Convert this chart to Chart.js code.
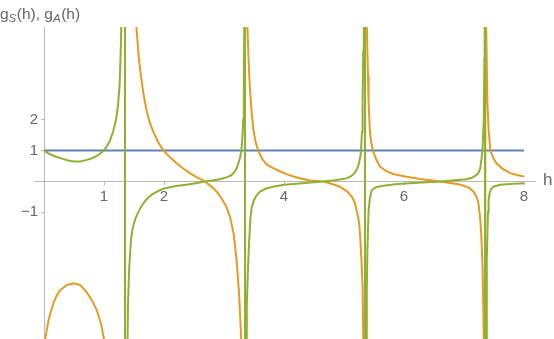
<!DOCTYPE html>
<html>
<head>
<meta charset="utf-8">
<script src="https://cdn.jsdelivr.net/npm/chart.js@4.4.1/dist/chart.umd.min.js"></script>
<style>
  html, body { margin: 0; padding: 0; background: #fff; }
  #wrap { width: 554px; height: 339px; position: relative; }
</style>
</head>
<body>
<div id="wrap"><canvas id="myChart"></canvas></div>
<script>
// values (h, g), poles drawn as a jump from +80 to -80
const hBlue = [0, 8];
const gBlue = [1, 1];

const hGreen = [
  0, 0.1, 0.2, 0.3, 0.4, 0.5, 0.6, 0.7, 0.8, 0.9, 1.0, 1.05, 1.1, 1.15, 1.2, 1.23, 1.26, 1.28, 1.29, 1.31, 1.35,
  1.35, 1.39, 1.40, 1.42, 1.45, 1.47, 1.5, 1.52, 1.55, 1.58, 1.62, 1.66, 1.7, 1.75, 1.8, 1.9, 2.0, 2.2, 2.4, 2.55, 2.68, 2.8, 2.93, 3.05, 3.12, 3.16, 3.19, 3.21, 3.24, 3.27, 3.29, 3.31, 3.32, 3.33, 3.34, 3.35,
  3.35, 3.37, 3.38, 3.40, 3.42, 3.44, 3.46, 3.5, 3.55, 3.6, 3.7, 3.82, 4.0, 4.16, 4.4, 4.66, 4.85, 5.04, 5.12, 5.17, 5.21, 5.25, 5.28, 5.30, 5.31, 5.32, 5.33, 5.35,
  5.35, 5.37, 5.38, 5.39, 5.41, 5.43, 5.46, 5.5, 5.55, 5.66, 5.85, 6.02, 6.3, 6.6, 6.85, 7.04, 7.12, 7.18, 7.24, 7.27, 7.29, 7.31, 7.33, 7.34, 7.345, 7.35,
  7.35, 7.37, 7.38, 7.40, 7.41, 7.43, 7.45, 7.49, 7.6, 7.77, 8.0
];
const gGreen = [
  1.0, 0.88, 0.80, 0.74, 0.68, 0.65, 0.65, 0.69, 0.75, 0.85, 1.0, 1.15, 1.33, 1.6, 2.0, 2.4, 3.1, 4.3, 5.2, 8, 80,
  -80, -5.5, -4.0, -2.8, -1.9, -1.6, -1.35, -1.22, -1.08, -0.96, -0.82, -0.7, -0.6, -0.5, -0.42, -0.31, -0.23, -0.15, -0.10, -0.05, 0, 0.03, 0.07, 0.14, 0.2, 0.27, 0.35, 0.42, 0.59, 0.80, 1.02, 1.5, 2.0, 3.0, 5.5, 80,
  -80, -5.5, -4.0, -2.8, -1.9, -1.2, -0.85, -0.6, -0.43, -0.33, -0.23, -0.17, -0.11, -0.08, -0.04, 0, 0.04, 0.1, 0.17, 0.26, 0.37, 0.58, 0.9, 1.6, 2.55, 4.2, 7, 80,
  -80, -5.5, -3.5, -2.2, -0.95, -0.55, -0.30, -0.22, -0.18, -0.14, -0.09, -0.07, -0.03, 0, 0.04, 0.07, 0.11, 0.17, 0.27, 0.42, 0.7, 1.1, 2.0, 4, 7, 80,
  -80, -5.5, -2.5, -1.0, -0.6, -0.35, -0.25, -0.17, -0.11, -0.08, -0.06
];

const hOrange = [
  0.0, 0.02, 0.08, 0.155, 0.21, 0.27, 0.38, 0.5, 0.6, 0.71, 0.8, 0.88, 0.95, 1.0, 1.05, 1.2, 1.35,
  1.35, 1.45, 1.54, 1.56, 1.58, 1.61, 1.64, 1.67, 1.71, 1.76, 1.82, 1.9, 1.99, 2.1, 2.21, 2.32, 2.43, 2.55, 2.68, 2.78, 2.88, 2.96, 3.04, 3.1, 3.16, 3.21, 3.25, 3.28, 3.30, 3.35,
  3.35, 3.38, 3.39, 3.41, 3.43, 3.46, 3.49, 3.53, 3.57, 3.64, 3.71, 3.82, 3.93, 4.05, 4.16, 4.3, 4.43, 4.66, 4.8, 4.93, 5.05, 5.13, 5.18, 5.21, 5.25, 5.27, 5.29, 5.31, 5.32, 5.33, 5.35,
  5.35, 5.37, 5.38, 5.40, 5.41, 5.43, 5.45, 5.48, 5.54, 5.6, 5.7, 5.82, 6.02, 6.27, 6.6, 6.93, 7.08, 7.16, 7.21, 7.24, 7.27, 7.29, 7.31, 7.33, 7.34, 7.35,
  7.35, 7.36, 7.37, 7.39, 7.41, 7.44, 7.49, 7.54, 7.65, 7.77, 7.9, 8.0
];
const gOrange = [
  -5.6, -5.1, -4.45, -3.95, -3.7, -3.52, -3.35, -3.30, -3.35, -3.58, -3.85, -4.17, -4.6, -5.1, -5.8, -9, -80,
  80, 9, 5.0, 4.5, 4.0, 3.5, 3.08, 2.7, 2.3, 1.92, 1.62, 1.28, 1.0, 0.78, 0.59, 0.42, 0.27, 0.13, 0, -0.15, -0.33, -0.55, -0.82, -1.15, -1.68, -2.55, -3.6, -4.8, -5.8, -80,
  80, 6, 5.0, 3.9, 3.08, 2.25, 1.67, 1.25, 1.0, 0.72, 0.55, 0.43, 0.33, 0.23, 0.16, 0.09, 0.03, 0, -0.08, -0.17, -0.32, -0.49, -0.68, -0.93, -1.3, -1.79, -2.5, -3.4, -5.1, -7, -80,
  80, 6, 5.0, 3.4, 2.55, 1.67, 1.3, 1.0, 0.7, 0.48, 0.34, 0.24, 0.16, 0.08, 0.0, -0.1, -0.2, -0.33, -0.5, -0.7, -1.2, -1.8, -2.8, -5.1, -7, -80,
  80, 6, 5.0, 2.6, 1.67, 1.0, 0.75, 0.59, 0.40, 0.27, 0.20, 0.16
];

const xTicks = [1, 2, 4, 6, 8];
const yTicks = [-1, 1, 2];

const axisColor = '#b9b9b9';
const labelColor = '#666666';
const fontFamily = '"Liberation Sans", Arial, sans-serif';

const toPoints = (hs, gs) => hs.map((h, i) => ({ x: h, y: gs[i] }));
const fmt = v => (v < 0 ? '\u2212' + Math.abs(v) : String(v));

// axis captions: g_S(h), g_A(h) and h
const captions = {
    id: 'captions',
    afterDraw(chart) {
        const ctx = chart.ctx;
        ctx.save();
        ctx.fillStyle = labelColor;
        ctx.textBaseline = 'alphabetic';
        let x = 0;
        const y = 19;
        const parts = [
            ['g', '15.5px ' + fontFamily, 0],
            ['S', 'italic 11.5px ' + fontFamily, 3],
            ['(h), g', '15.5px ' + fontFamily, 0],
            ['A', 'italic 11.5px ' + fontFamily, 3],
            ['(h)', '15.5px ' + fontFamily, 0]
        ];
        parts.forEach(([t, f, dy]) => {
            ctx.font = f;
            ctx.fillText(t, x, y + dy);
            x += ctx.measureText(t).width + (dy ? 0.5 : 0);
        });
        ctx.font = '17px ' + fontFamily;
        ctx.textBaseline = 'middle';
        ctx.fillText('h', 543, chart.scales.y.getPixelForValue(0) - 1);
        ctx.restore();
    }
};

const lineStyle = color => ({
    borderColor: color,
    backgroundColor: color,
    borderWidth: 2,
    pointRadius: 0,
    showLine: true,
    tension: 0,
    fill: false
});

const ctx = document.getElementById('myChart').getContext('2d');
const myChart = new Chart(ctx, {
    type: 'scatter',
    data: {
        datasets: [
            { label: 'gA', data: toPoints(hGreen, gGreen), order: 0, ...lineStyle('#8fb032') },
            { label: 'gS', data: toPoints(hOrange, gOrange), order: 1, ...lineStyle('#e19c24') },
            { label: '1', data: toPoints(hBlue, gBlue), order: 2, ...lineStyle('#5e81b5') }
        ]
    },
    options: {
        responsive: true,
        maintainAspectRatio: false,
        animation: false,
        layout: { padding: { left: 34, right: 19, top: 27, bottom: 0 } },
        plugins: { legend: { display: false }, tooltip: { enabled: false } },
        scales: {
            x: {
                type: 'linear',
                min: -10 / 60,
                max: 8 + 11 / 60,
                position: { y: 0 },
                afterFit: s => { s.height = 0; s.paddingLeft = 0; s.paddingRight = 0; },
                afterBuildTicks: s => { s.ticks = xTicks.map(v => ({ value: v })); },
                ticks: { color: labelColor, font: { size: 15, family: fontFamily }, padding: 3, maxRotation: 0, autoSkip: false, callback: fmt },
                grid: { drawOnChartArea: false, tickLength: 3, color: axisColor },
                border: { color: axisColor, width: 1 }
            },
            y: {
                type: 'linear',
                min: -5.1,
                max: 5.0,
                position: { x: 0 },
                afterFit: s => { s.width = 0; s.paddingTop = 0; s.paddingBottom = 0; },
                afterBuildTicks: s => { s.ticks = yTicks.map(v => ({ value: v })); },
                ticks: { color: labelColor, font: { size: 15, family: fontFamily }, autoSkip: false, callback: v => fmt(v) + '\u2009\u2009' },
                grid: { drawOnChartArea: false, tickLength: 3, color: axisColor },
                border: { color: axisColor, width: 1 }
            }
        }
    },
    plugins: [captions]
});
</script>
</body>
</html>
